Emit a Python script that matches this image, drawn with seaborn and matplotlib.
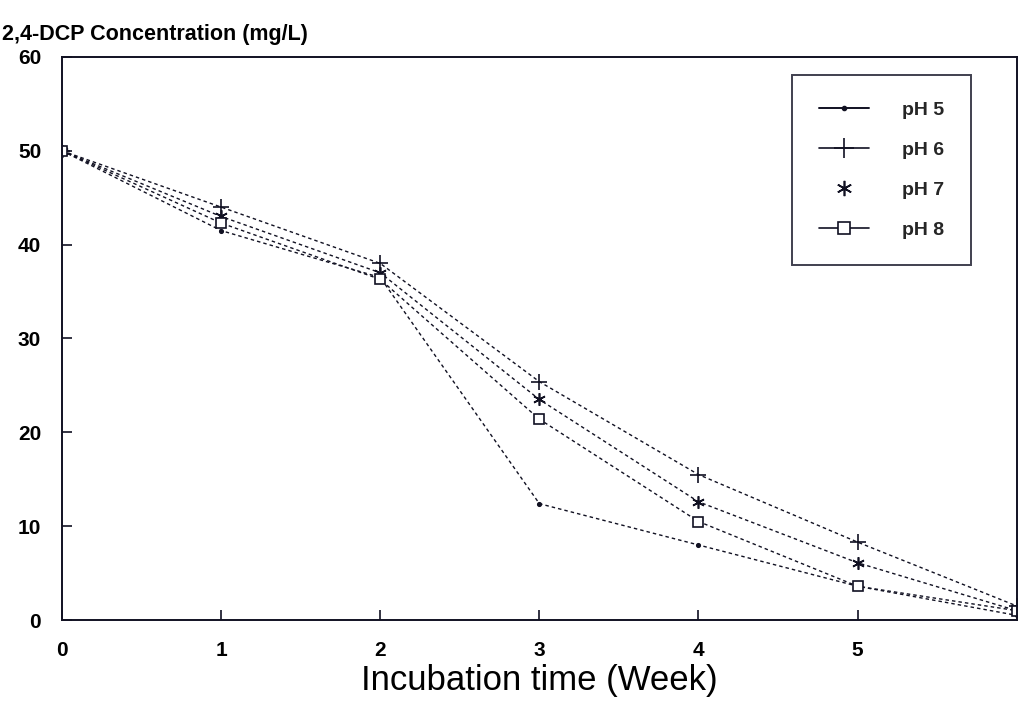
import matplotlib
matplotlib.use("Agg")
import matplotlib.pyplot as plt
from matplotlib.lines import Line2D
import seaborn as sns
import pandas as pd

# Incubation time in weeks
weeks = [0, 1, 2, 3, 4, 5, 6]

# 2,4-DCP concentration (mg/L) at each pH
ph5 = [50, 41.5, 36.5, 12.4, 8.0, 3.6, 0.5]
ph6 = [50, 44.0, 38.0, 25.4, 15.5, 8.3, 1.5]
ph7 = [50, 43.0, 37.0, 23.5, 12.6, 6.1, 1.0]
ph8 = [50, 42.3, 36.3, 21.4, 10.5, 3.6, 1.0]

series_labels = ["pH 5", "pH 6", "pH 7", "pH 8"]
series_values = [ph5, ph6, ph7, ph8]

x_ticks = [0, 1, 2, 3, 4, 5]
y_ticks = [0, 10, 20, 30, 40, 50, 60]

df = pd.DataFrame(
    [(w, v, lab) for lab, vals in zip(series_labels, series_values)
     for w, v in zip(weeks, vals)],
    columns=["week", "conc", "series"],
)

sns.set_style("ticks")
plt.rcParams["font.family"] = ["Liberation Sans", "DejaVu Sans"]

fig = plt.figure(figsize=(10.2, 7.03), dpi=100)
ax = fig.add_axes([0.0608, 0.118, 0.936, 0.801])

asterisk = (6, 2, 0)
markers = {"pH 5": "o", "pH 6": "+", "pH 7": asterisk, "pH 8": "s"}
sizes = {"pH 5": 2.5, "pH 6": 11, "pH 7": 9, "pH 8": 6.5}
ink = "#111122"

for lab in series_labels:
    sub = df[df["series"] == lab]
    sns.lineplot(
        data=sub, x="week", y="conc", ax=ax, color=ink,
        linewidth=1.0, linestyle=(0, (2.5, 2.2)),
        marker=markers[lab], markersize=sizes[lab],
        markerfacecolor="white" if lab == "pH 8" else ink,
        markeredgecolor=ink, markeredgewidth=1.2,
        legend=False,
    )

ax.set_xlim(0, 6)
ax.set_ylim(0, 60)
ax.set_xticks(x_ticks)
ax.set_yticks(y_ticks)
ax.tick_params(direction="in", length=7, width=1.2, colors=ink,
               labelsize=15)
ax.tick_params(axis="x", pad=15)
ax.tick_params(axis="y", pad=15)
for t in ax.get_xticklabels() + ax.get_yticklabels():
    t.set_fontweight("bold")
    t.set_color("black")
for s in ax.spines.values():
    s.set_visible(True)
    s.set_color(ink)
    s.set_linewidth(1.4)

ax.set_xlabel("Incubation time (Week)", fontsize=25, color="black", labelpad=3)
ax.set_ylabel("")
fig.text(0.002, 0.936, "2,4-DCP Concentration (mg/L)", fontsize=15.5,
         fontweight="bold", color="black", ha="left", va="bottom")

handles = [
    Line2D([], [], color=ink, lw=1.4, marker="o", markersize=3),
    Line2D([], [], color=ink, lw=1.2, marker="+", markersize=14,
           markeredgewidth=1.2),
    Line2D([], [], color=ink, lw=0, marker=asterisk, markersize=11,
           markeredgewidth=1.2),
    Line2D([], [], color=ink, lw=1.2, marker="s", markersize=9,
           markerfacecolor="white", markeredgewidth=1.2),
]
leg = ax.legend(handles, series_labels, loc="upper left",
                bbox_to_anchor=(0.765, 0.968), frameon=True, fancybox=False,
                edgecolor=ink, fontsize=14, handlelength=2.6,
                handletextpad=1.7, labelspacing=1.15, borderpad=1.35,
                borderaxespad=0)
leg.get_frame().set_linewidth(1.4)
for t in leg.get_texts():
    t.set_fontweight("bold")

fig.savefig("out.png", dpi=100, facecolor="white")
